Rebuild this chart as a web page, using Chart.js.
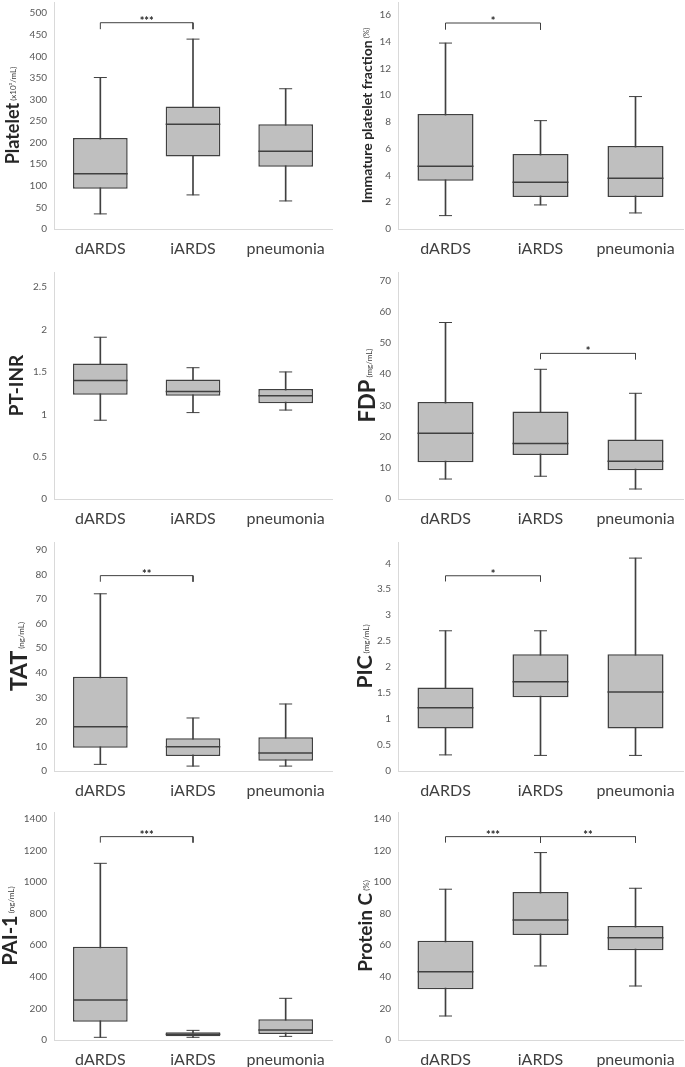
<!DOCTYPE html>
<html>
<head>
<meta charset="utf-8">
<script src="https://cdn.jsdelivr.net/npm/chart.js@4.4.0/dist/chart.umd.min.js"></script>
<style>
  body { margin: 0; background: #fff; overflow: hidden; }
  #wrap { position: relative; width: 685px; height: 1067px; overflow: hidden; }
  .panel { position: absolute; }
  .panel canvas { display: block; }
</style>
</head>
<body>
<div id="wrap"></div>
<script>
const categories = ['dARDS', 'iARDS', 'pneumonia'];

// each group: [min, q1, median, q3, max]
const platelet = [[35, 93, 128, 211, 351], [79, 168, 243, 284, 440], [65, 144, 180, 243, 325]];
const ipf = [[1.0, 3.6, 4.7, 8.6, 13.9], [1.8, 2.4, 3.5, 5.6, 8.1], [1.2, 2.4, 3.8, 6.2, 9.9]];
const ptInr = [[0.93, 1.23, 1.4, 1.6, 1.91], [1.02, 1.22, 1.27, 1.41, 1.55], [1.05, 1.13, 1.22, 1.3, 1.5]];
const fdp = [[6.4, 11.8, 21.1, 31.1, 56.6], [7.3, 14.1, 17.8, 28.1, 41.6], [3.2, 9.2, 12.1, 19.1, 33.9]];
const tat = [[2.7, 9.5, 18.0, 38.4, 72.2], [2.0, 6.1, 9.9, 13.3, 21.6], [2.0, 4.2, 7.3, 13.7, 27.3]];
const pic = [[0.31, 0.82, 1.22, 1.61, 2.7], [0.3, 1.42, 1.72, 2.25, 2.7], [0.3, 0.82, 1.52, 2.25, 4.1]];
const pai1 = [[17, 116, 253, 591, 1119], [17, 23, 36, 49, 61], [23, 38, 63, 131, 264]];
const proteinC = [[15.2, 32.1, 43.3, 62.9, 95.5], [46.9, 66.5, 76.0, 93.8, 118.7], [34.2, 56.8, 64.8, 72.2, 96.1]];

// significance brackets: [from, to, bar value, leg end value, label]
const plateletSig = [[0, 1, 478, 463, '***']];
const ipfSig = [[0, 1, 15.4, 14.9, '*']];
const ptInrSig = [];
const fdpSig = [[1, 2, 46.7, 44.8, '*']];
const tatSig = [[0, 1, 79.6, 77.1, '**']];
const picSig = [[0, 1, 3.76, 3.65, '*']];
const pai1Sig = [[0, 1, 1288, 1250, '***']];
const proteinCSig = [[0, 1, 128.8, 125, '***'], [1, 2, 128.8, 125, '**']];

// y axis: [max, step]
const plateletAxis = [526, 50];
const ipfAxis = [16.97, 2];
const ptInrAxis = [2.68, 0.5];
const fdpAxis = [72.8, 10];
const tatAxis = [93.3, 10];
const picAxis = [4.41, 0.5];
const pai1Axis = [1444, 200];
const proteinCAxis = [144.4, 20];

const FONT = 'Lato, "Open Sans", sans-serif';
const DARK = '#404040';

const panels = [
  { data: platelet, sig: plateletSig, axis: plateletAxis, title: 'Platelet', unit: '(x10³/mL)', size: 18, tx: 19, col: 0, row: 0 },
  { data: ipf, sig: ipfSig, axis: ipfAxis, title: 'Immature platelet fraction', unit: '(%)', size: 14, tx: 30, col: 1, row: 0 },
  { data: ptInr, sig: ptInrSig, axis: ptInrAxis, title: 'PT-INR', unit: '', size: 19, tx: 23, col: 0, row: 1 },
  { data: fdp, sig: fdpSig, axis: fdpAxis, title: 'FDP', unit: '(mg/mL)', size: 22, tx: 33, col: 1, row: 1 },
  { data: tat, sig: tatSig, axis: tatAxis, title: 'TAT', unit: '(ng/mL)', size: 23, tx: 27, col: 0, row: 2 },
  { data: pic, sig: picSig, axis: picAxis, title: 'PIC', unit: '(mg/mL)', size: 21, tx: 30, col: 1, row: 2 },
  { data: pai1, sig: pai1Sig, axis: pai1Axis, title: 'PAI-1', unit: '(ng/mL)', size: 20, tx: 17, col: 0, row: 3 },
  { data: proteinC, sig: proteinCSig, axis: proteinCAxis, title: 'Protein C', unit: '(%)', size: 19, tx: 30, col: 1, row: 3 },
];

// column: x, width, plot left, plot right ; row: y, plot top, zero line
const cols = [[0, 342, 54, 332], [342, 343, 56, 341]];
const rows = [[0, 2, 229], [268, 4, 231], [535, 7, 236], [800, 12, 240]];

const BOX_PCT = 0.59;
const X_AXIS_H = 36;

const yTitlePlugin = {
  id: 'yTitle',
  afterDraw(chart, args, opts) {
    const ctx = chart.ctx;
    const area = chart.chartArea;
    ctx.save();
    ctx.font = 'bold ' + opts.size + 'px ' + FONT;
    const w1 = ctx.measureText(opts.title).width;
    ctx.font = '8px ' + FONT;
    const w2 = opts.unit ? ctx.measureText(opts.unit).width + 2 : 0;
    const total = w1 + w2;
    const cy = (area.top + area.bottom) / 2;
    ctx.translate(opts.tx, cy);
    ctx.rotate(-Math.PI / 2);
    ctx.textBaseline = 'alphabetic';
    ctx.textAlign = 'left';
    ctx.fillStyle = '#262626';
    ctx.font = 'bold ' + opts.size + 'px ' + FONT;
    ctx.fillText(opts.title, -total / 2, 0);
    if (opts.unit) {
      ctx.fillStyle = DARK;
      ctx.font = '8px ' + FONT;
      ctx.fillText(opts.unit, -total / 2 + w1 + 2, -3);
    }
    ctx.restore();
  }
};

const starsPlugin = {
  id: 'stars',
  afterDatasetsDraw(chart, args, opts) {
    const ctx = chart.ctx;
    const x = chart.scales.x;
    const y = chart.scales.y;
    ctx.save();
    ctx.font = 'bold 11px ' + FONT;
    ctx.fillStyle = '#262626';
    ctx.textAlign = 'center';
    ctx.textBaseline = 'alphabetic';
    opts.sig.forEach(s => {
      const px = x.getPixelForValue((s[0] + s[1]) / 2);
      const py = y.getPixelForValue(s[2]);
      ctx.fillText(s[4], px, py + 2);
    });
    ctx.restore();
  }
};

// keep the tick labels from pushing the plot area in
function noScalePadding(scale) {
  scale.paddingTop = 0;
  scale.paddingBottom = 0;
  scale.paddingLeft = 0;
  scale.paddingRight = 0;
}

const wrap = document.getElementById('wrap');

panels.forEach(p => {
  const c = cols[p.col];
  const r = rows[p.row];
  const W = c[1], H = r[2] + X_AXIS_H;
  const div = document.createElement('div');
  div.className = 'panel';
  div.style.left = c[0] + 'px';
  div.style.top = r[0] + 'px';
  div.style.width = W + 'px';
  div.style.height = H + 'px';
  const canvas = document.createElement('canvas');
  canvas.width = W;
  canvas.height = H;
  div.appendChild(canvas);
  wrap.appendChild(div);

  const medianRadius = (c[3] - c[2]) / 3 * BOX_PCT / 2;

  const datasets = [
    {
      type: 'bar',
      data: p.data.map(g => [g[0], g[4]]),
      backgroundColor: DARK,
      borderWidth: 0,
      barThickness: 1,
      grouped: false,
      order: 4,
    },
    {
      type: 'bar',
      data: p.data.map(g => [g[1], g[3]]),
      backgroundColor: '#bfbfbf',
      borderColor: DARK,
      borderWidth: 1.5,
      borderSkipped: false,
      barPercentage: BOX_PCT,
      categoryPercentage: 1,
      grouped: false,
      order: 3,
    },
    {
      type: 'line',
      data: p.data.map(g => g[2]),
      showLine: false,
      pointStyle: 'line',
      pointRadius: medianRadius,
      pointBorderWidth: 1.5,
      pointBorderColor: DARK,
      order: 1,
    },
    {
      type: 'line',
      data: p.data.map(g => g[0]),
      showLine: false,
      pointStyle: 'line',
      pointRadius: 6.5,
      pointBorderWidth: 1,
      pointBorderColor: DARK,
      order: 1,
    },
    {
      type: 'line',
      data: p.data.map(g => g[4]),
      showLine: false,
      pointStyle: 'line',
      pointRadius: 6.5,
      pointBorderWidth: 1,
      pointBorderColor: DARK,
      order: 1,
    },
  ];

  p.sig.forEach(s => {
    datasets.push({
      type: 'line',
      data: [
        { x: categories[s[0]], y: s[3] },
        { x: categories[s[0]], y: s[2] },
        { x: categories[s[1]], y: s[2] },
        { x: categories[s[1]], y: s[3] },
      ],
      borderColor: DARK,
      borderWidth: 1,
      pointRadius: 0,
      fill: false,
      tension: 0,
      order: 1,
    });
  });

  new Chart(canvas, {
    type: 'bar',
    data: { labels: categories, datasets: datasets },
    options: {
      responsive: false,
      animation: false,
      events: [],
      layout: {
        autoPadding: false,
        padding: { left: 0, right: W - c[3], top: r[1], bottom: 0 },
      },
      scales: {
        x: {
          offset: true,
          grid: { display: false, drawTicks: false },
          border: { display: true, color: '#d9d9d9', width: 1 },
          ticks: { color: DARK, font: { family: FONT, size: 16 }, padding: 10 },
          afterFit(scale) {
            scale.height = X_AXIS_H;
            noScalePadding(scale);
          },
        },
        y: {
          min: 0,
          max: p.axis[0],
          grid: { display: false, drawTicks: false },
          border: { display: true, color: '#d9d9d9', width: 1 },
          ticks: {
            stepSize: p.axis[1],
            includeBounds: false,
            color: '#595959',
            font: { family: FONT, size: 10 },
            padding: 7,
            callback: v => String(+v.toFixed(2)),
          },
          afterFit(scale) {
            scale.width = c[2];
            noScalePadding(scale);
          },
        },
      },
      plugins: {
        legend: { display: false },
        tooltip: { enabled: false },
        yTitle: { title: p.title, unit: p.unit, size: p.size, tx: p.tx },
        stars: { sig: p.sig },
      },
    },
    plugins: [yTitlePlugin, starsPlugin],
  });
});
</script>
</body>
</html>
